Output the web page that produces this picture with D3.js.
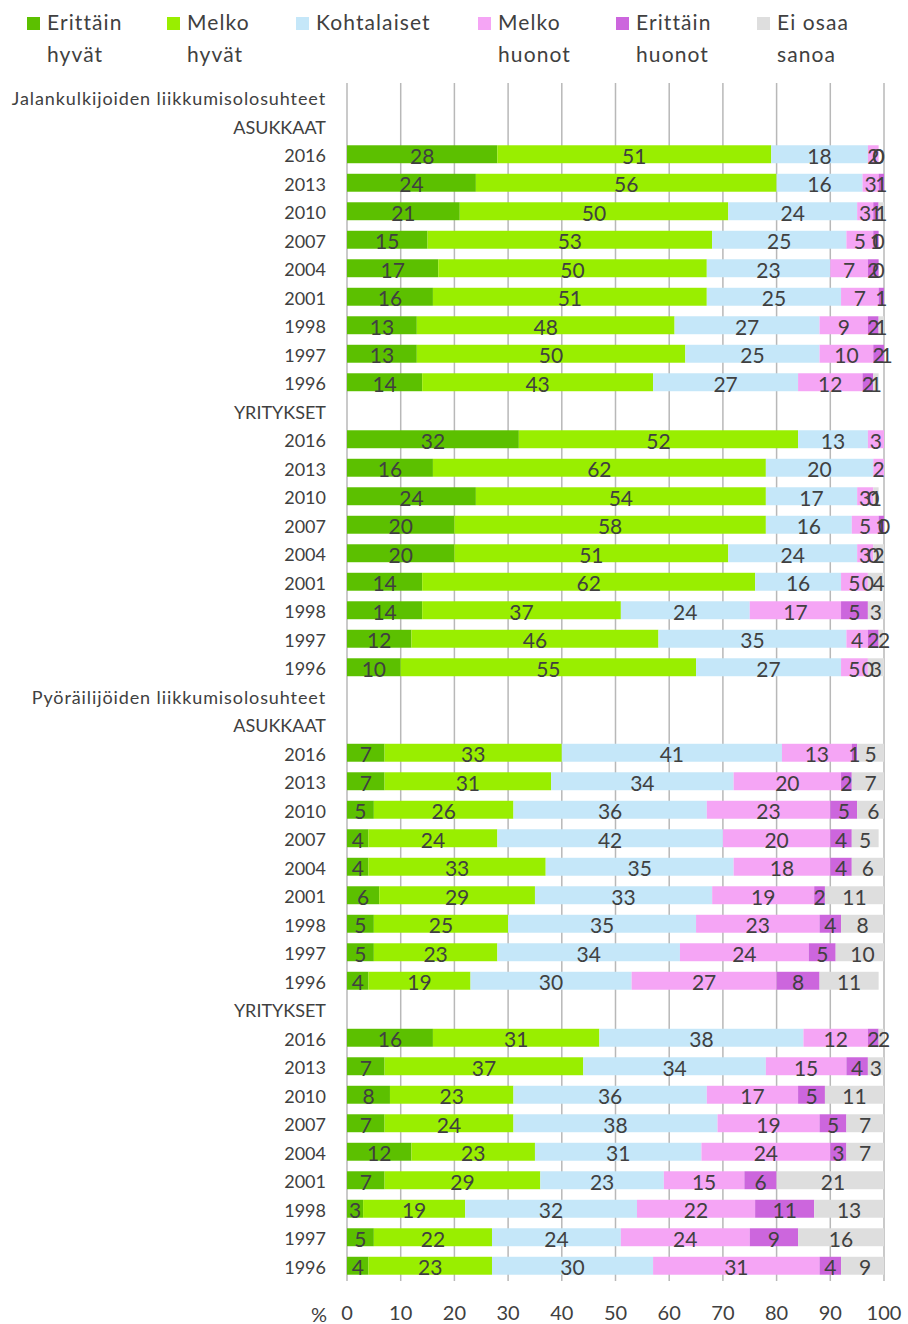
<!DOCTYPE html>
<html><head><meta charset="utf-8">
<script src="https://cdn.jsdelivr.net/npm/d3@7"></script>
<style>body{margin:0;background:#fff}svg{display:block}text{font-family:Lato,"Open Sans",sans-serif}</style>
</head><body><svg id="c" width="908" height="1324"></svg>
<script>
// ---------- DATA ----------
const seriesNames = ["Erittäin hyvät","Melko hyvät","Kohtalaiset","Melko huonot","Erittäin huonot","Ei osaa sanoa"];
const legendLines = [["Erittäin","hyvät"],["Melko","hyvät"],["Kohtalaiset"],["Melko","huonot"],["Erittäin","huonot"],["Ei osaa","sanoa"]];
const groupTitles = ["Jalankulkijoiden liikkumisolosuhteet","Pyöräilijöiden liikkumisolosuhteet"];
const respondentTitles = ["ASUKKAAT","YRITYKSET"];
const years = ["2016","2013","2010","2007","2004","2001","1998","1997","1996"];
// values per year: [Erittäin hyvät, Melko hyvät, Kohtalaiset, Melko huonot, Erittäin huonot, Ei osaa sanoa]
const pedResidents = [
  [28,51,18,2,0,0],
  [24,56,16,3,1,null],
  [21,50,24,3,1,1],
  [15,53,25,5,1,0],
  [17,50,23,7,2,0],
  [16,51,25,7,1,null],
  [13,48,27,9,2,1],
  [13,50,25,10,2,1],
  [14,43,27,12,2,1]
];
const pedCompanies = [
  [32,52,13,3,null,null],
  [16,62,20,2,null,null],
  [24,54,17,3,0,1],
  [20,58,16,5,1,0],
  [20,51,24,3,0,2],
  [14,62,16,5,0,4],
  [14,37,24,17,5,3],
  [12,46,35,4,2,2],
  [10,55,27,5,0,3]
];
const cycResidents = [
  [7,33,41,13,1,5],
  [7,31,34,20,2,7],
  [5,26,36,23,5,6],
  [4,24,42,20,4,5],
  [4,33,35,18,4,6],
  [6,29,33,19,2,11],
  [5,25,35,23,4,8],
  [5,23,34,24,5,10],
  [4,19,30,27,8,11]
];
const cycCompanies = [
  [16,31,38,12,2,2],
  [7,37,34,15,4,3],
  [8,23,36,17,5,11],
  [7,24,38,19,5,7],
  [12,23,31,24,3,7],
  [7,29,23,15,6,21],
  [3,19,32,22,11,13],
  [5,22,24,24,9,16],
  [4,23,30,31,4,9]
];
const xTicks = [0,10,20,30,40,50,60,70,80,90,100];

// ---------- STYLE / LAYOUT ----------
const colors = ["#5cc000","#99ee00","#c5e7f9","#f5a5f5","#cc66dd","#dedede"];
const legendX = [27,167,296,478,616,757];
const textColor = "#404040";

// build rows
const rows = [];
[[pedResidents, pedCompanies],[cycResidents, cycCompanies]].forEach((pair, gi) => {
  rows.push({label: groupTitles[gi], title: true});
  pair.forEach((tbl, ri) => {
    rows.push({label: respondentTitles[ri]});
    tbl.forEach((vals, yi) => rows.push({label: years[yi], values: vals}));
  });
});
rows.forEach((r, i) => r.id = i);

const svg = d3.select("#c");
const x = d3.scaleLinear().domain([0,100]).range([347,884]);
const y = d3.scaleBand().domain(rows.map(r => r.id)).range([83,1280]).paddingInner(0.37).paddingOuter(0.185);
const plotTop = 83, plotBottom = 1281;

// gridlines
svg.append("g").selectAll("line").data(xTicks).join("line")
  .attr("x1", d => x(d)).attr("x2", d => x(d))
  .attr("y1", plotTop).attr("y2", plotBottom)
  .attr("stroke", "#b8b8b8").attr("stroke-width", 1.5);

// segments
const segs = [];
rows.filter(r => r.values).forEach(r => {
  let acc = 0;
  r.values.forEach((v, si) => {
    if (v === null) return;
    segs.push({row: r.id, s: si, v, x0: acc, x1: acc + v});
    acc += v;
  });
});

svg.append("g").selectAll("rect").data(segs).join("rect")
  .attr("x", d => x(Math.min(d.x0, 100)))
  .attr("width", d => Math.max(0, x(Math.min(d.x1, 100)) - x(Math.min(d.x0, 100))))
  .attr("y", d => y(d.row))
  .attr("height", y.bandwidth())
  .attr("fill", d => colors[d.s]);

svg.append("g").selectAll("text").data(segs).join("text")
  .attr("x", d => x((d.x0 + d.x1) / 2))
  .attr("y", d => y(d.row) + y.bandwidth() / 2 + 1)
  .attr("text-anchor", "middle").attr("dominant-baseline", "central")
  .attr("font-size", 21).attr("fill", textColor)
  .text(d => d.v);

// category labels
svg.append("g").selectAll("text").data(rows).join("text")
  .attr("x", 326)
  .attr("y", d => y(d.id) + y.bandwidth() / 2 + 1)
  .attr("text-anchor", "end").attr("dominant-baseline", "central")
  .attr("font-size", 18).attr("fill", textColor)
  .attr("letter-spacing", d => d.title ? 0.9 : 0)
  .text(d => d.label);

// x axis tick labels
svg.append("g").selectAll("text").data(xTicks).join("text")
  .attr("x", d => x(d)).attr("y", 1312)
  .attr("text-anchor", "middle").attr("dominant-baseline", "central")
  .attr("font-size", 20).attr("fill", textColor)
  .text(d => d);
svg.append("text").attr("x", 327).attr("y", 1314)
  .attr("text-anchor", "end").attr("dominant-baseline", "central")
  .attr("font-size", 20).attr("fill", textColor).text("%");

// legend
const lg = svg.append("g").selectAll("g").data(seriesNames).join("g")
  .attr("transform", (d, i) => `translate(${legendX[i]},0)`);
lg.append("rect").attr("x", 0).attr("y", 17).attr("width", 13).attr("height", 13)
  .attr("fill", (d, i) => colors[i]);
lg.each(function(d, i) {
  const g = d3.select(this);
  legendLines[i].forEach((line, li) => {
    g.append("text").attr("x", 20).attr("y", 30 + li * 32)
      .attr("font-size", 21).attr("letter-spacing", 1.1)
      .attr("fill", textColor).text(line);
  });
});
</script></body></html>
